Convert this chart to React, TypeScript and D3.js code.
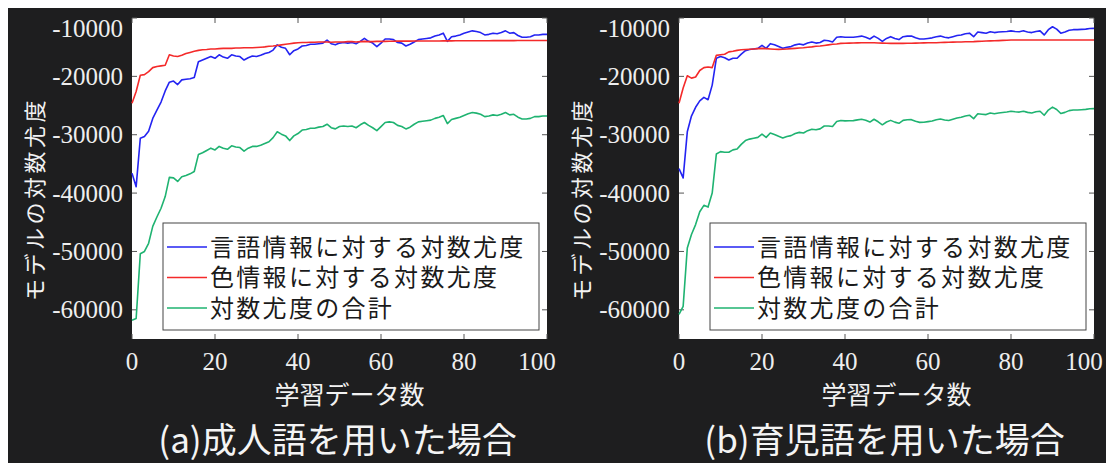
import React from 'react';
import * as d3 from 'd3';

// Number of training samples (x axis)
const TRAINING_COUNTS = d3.range(0, 101);

// (a) adult-directed speech
const ADULT_LANG = [
  -36600, -38900, -30600, -30300, -29400, -27200, -25800, -24400, -22500, -21000,
  -20800, -21400, -20600, -20500, -20400, -20200, -17500, -17200, -16900, -16600,
  -16900, -16300, -16700, -16900, -16300, -16500, -16600, -17200, -16800, -16500,
  -16600, -16400, -16100, -15900, -15500, -14600, -15000, -15200, -16300, -15600,
  -15300, -14800, -14700, -14500, -14500, -14400, -14300, -13800, -14400, -14600,
  -14300, -14200, -14300, -14200, -14400, -14000, -13500, -14000, -14300, -14900,
  -14300, -13600, -13600, -13700, -14200, -14300, -14800, -14500, -14100, -13700,
  -13600, -13500, -13400, -13100, -12900, -12600, -14000, -13200, -13100, -12900,
  -12600, -12400, -12200, -12300, -12500, -12900, -12800, -12600, -12700, -12500,
  -12200, -12600, -12500, -13000, -13300, -13300, -13200, -12900, -12900, -12800,
  -12800,
];
const ADULT_COLOR = [
  -24600, -22600, -19800, -19700, -19200, -18500, -18300, -18200, -18100, -16300,
  -16500, -16600, -16400, -16100, -15900, -15700, -15550, -15450, -15400, -15300,
  -15300, -15250, -15200, -15200, -15200, -15150, -15150, -15100, -15100, -15100,
  -15050, -15000, -14950, -14850, -14800, -14700, -14600, -14500, -14400, -14300,
  -14250, -14200, -14200, -14150, -14150, -14100, -14100, -14100, -14150, -14100,
  -14100, -14100, -14050, -14050, -14100, -14050, -14000, -14050, -14050, -14000,
  -14000, -14000, -13980, -13980, -13970, -13970, -13960, -13960, -13950, -13950,
  -13950, -13940, -13940, -13930, -13930, -13920, -13920, -13920, -13910, -13910,
  -13900, -13900, -13900, -13900, -13890, -13890, -13890, -13880, -13880, -13880,
  -13870, -13870, -13870, -13860, -13860, -13860, -13860, -13850, -13850, -13850,
  -13850,
];
const ADULT_TOTAL = [
  -61800, -61500, -50400, -50000, -48600, -45700, -44100, -42600, -40600, -37300,
  -37400, -38000, -37200, -37000, -36700, -36300, -33400, -33100, -32700, -32300,
  -32600, -32000, -32300, -32500, -31900, -32100, -32200, -32800, -32300, -32000,
  -32000, -31800, -31500, -31200, -30500, -29500, -29900, -30200, -31000, -30200,
  -29800, -29200, -29100, -28900, -28900, -28700, -28600, -28200, -28800, -29000,
  -28600, -28500, -28600, -28500, -28800, -28300, -27900, -28400, -28800, -29300,
  -28600, -27900, -27800, -27900, -28400, -28600, -29000, -28700, -28200, -27800,
  -27700, -27600, -27500, -27200, -27000, -26700, -28100, -27400, -27200, -27000,
  -26700, -26400, -26200, -26300, -26500, -26900, -26800, -26600, -26700, -26500,
  -26200, -26600, -26500, -27000, -27300, -27300, -27200, -26900, -26900, -26800,
  -26800,
];

// (b) infant-directed speech
const INFANT_LANG = [
  -35800, -37400, -29500, -26800, -25300, -24200, -23600, -24000, -21500, -16900,
  -16600, -16800, -17200, -16900, -16900, -16200, -15600, -15400, -15300, -15200,
  -14700, -15200, -14400, -14600, -14900, -15200, -15000, -14900, -14600, -14450,
  -14600, -14300, -14100, -14300, -14200, -13800, -13900, -14100, -13300, -13200,
  -13300, -13300, -13300, -13200, -13100, -13300, -13600, -13100, -13500, -14000,
  -13500, -13200, -13500, -13700, -13200, -13100, -13100, -13400, -13600, -13600,
  -13500, -13400, -13200, -13100, -13300, -13400, -13200, -13000, -12900, -12700,
  -12600, -13200, -12400, -12500, -12600, -12350, -12500, -12400, -12350, -12300,
  -12200, -12300, -12350, -12200, -12400, -12500, -12300, -12200, -12900, -12000,
  -11500, -11900, -12600, -12400, -12100, -12000, -12000, -11950, -11900, -11800,
  -11770,
];
const INFANT_COLOR = [
  -24600, -22000, -19900, -20300, -20100, -19000, -18500, -18400, -18500, -16400,
  -16300, -16200, -15800, -15700, -15550, -15450, -15400, -15350, -15300, -15250,
  -15200, -15250, -15300, -15350, -15370, -15350, -15300, -15250, -15200, -15150,
  -15100, -15000, -14950, -14850, -14800, -14700, -14600, -14500, -14450, -14350,
  -14330, -14300, -14280, -14260, -14250, -14230, -14230, -14250, -14280, -14300,
  -14320, -14340, -14340, -14340, -14340, -14330, -14320, -14300, -14280, -14260,
  -14250, -14240, -14230, -14200, -14180, -14160, -14140, -14120, -14100, -14080,
  -14060, -14040, -14000, -13980, -13950, -13920, -13900, -13870, -13840, -13800,
  -13780, -13770, -13770, -13770, -13770, -13770, -13770, -13770, -13770, -13770,
  -13770, -13770, -13770, -13770, -13770, -13770, -13770, -13770, -13760, -13760,
  -13760,
];
const INFANT_TOTAL = [
  -60800, -59400, -49400, -47100, -45400, -43200, -42100, -42400, -40000, -33300,
  -32900, -33000, -33000, -32600, -32450, -31650, -31000, -30750, -30600, -30450,
  -29900, -30450, -29700, -29950, -30270, -30550, -30300, -30150, -29800, -29600,
  -29700, -29300, -29050, -29150, -29000, -28500, -28500, -28600, -27750, -27550,
  -27630, -27600, -27580, -27460, -27350, -27530, -27830, -27350, -27780, -28300,
  -27820, -27540, -27840, -28040, -27540, -27430, -27420, -27700, -27880, -27860,
  -27750, -27640, -27430, -27300, -27480, -27560, -27340, -27120, -27000, -26780,
  -26660, -27240, -26400, -26480, -26550, -26270, -26400, -26270, -26190, -26100,
  -25980, -26070, -26120, -25970, -26170, -26270, -26070, -25970, -26670, -25770,
  -25270, -25670, -26370, -26170, -25870, -25770, -25770, -25720, -25660, -25560,
  -25530,
];

const X_TICKS = [0, 20, 40, 60, 80, 100];
const Y_TICKS = [-60000, -50000, -40000, -30000, -20000, -10000];
const LEGEND_LABELS = ['言語情報に対する対数尤度', '色情報に対する対数尤度', '対数尤度の合計'];
const SERIES_COLORS = ['#2424f2', '#f42a2a', '#1fb371'];
const CAPTIONS = ['(a)成人語を用いた場合', '(b)育児語を用いた場合'];
const Y_TITLE = 'モデルの対数尤度';
const X_TITLE = '学習データ数';

const PANELS = [
  { left: 132, series: [ADULT_LANG, ADULT_COLOR, ADULT_TOTAL], caption: CAPTIONS[0] },
  { left: 679, series: [INFANT_LANG, INFANT_COLOR, INFANT_TOTAL], caption: CAPTIONS[1] },
];

const PLOT_W = 415;
const PLOT_TOP = 18;
const PLOT_BOTTOM = 339;
const SERIF = '"Liberation Serif", "Times New Roman", serif';
const SANS = '"Noto Sans CJK JP", "Noto Sans", sans-serif';

function Panel({ left, series, caption }: { left: number; series: number[][]; caption: string }) {
  const x = d3.scaleLinear().domain([0, 100]).range([left, left + PLOT_W]);
  const y = d3.scaleLinear().domain([-65000, -10000]).range([PLOT_BOTTOM, PLOT_TOP]);
  const line = d3
    .line<number>()
    .x((_, i) => x(TRAINING_COUNTS[i]))
    .y((d) => y(d));
  const tickLen = 5;
  const right = left + PLOT_W;
  const legendX = left + 31;
  const legendY = 223;

  return (
    <g>
      <rect x={left} y={PLOT_TOP} width={PLOT_W} height={PLOT_BOTTOM - PLOT_TOP} fill="#ffffff" />
      {X_TICKS.map((t) => (
        <g key={'xt' + t}>
          <line x1={x(t)} x2={x(t)} y1={PLOT_BOTTOM} y2={PLOT_BOTTOM - tickLen} stroke="#555" strokeWidth={1} />
          <line x1={x(t)} x2={x(t)} y1={PLOT_TOP} y2={PLOT_TOP + tickLen} stroke="#555" strokeWidth={1} />
          <text
            x={Math.min(x(t), right - 10)}
            y={370}
            fill="#eeeeee"
            fontFamily={SERIF}
            fontSize={25}
            textAnchor="middle"
          >
            {t}
          </text>
        </g>
      ))}
      {Y_TICKS.map((t) => (
        <g key={'yt' + t}>
          <line x1={left} x2={left + tickLen} y1={y(t)} y2={y(t)} stroke="#555" strokeWidth={1} />
          <line x1={right} x2={right - tickLen} y1={y(t)} y2={y(t)} stroke="#555" strokeWidth={1} />
          <text
            x={left - 9}
            y={Math.max(y(t), 28) + 8.5}
            fill="#eeeeee"
            fontFamily={SERIF}
            fontSize={25}
            textAnchor="end"
          >
            {t}
          </text>
        </g>
      ))}
      {series.map((s, k) => (
        <path key={'s' + k} d={line(s) || ''} fill="none" stroke={SERIES_COLORS[k]} strokeWidth={1.6} strokeLinejoin="round" />
      ))}
      <rect x={legendX} y={legendY} width={376} height={107} fill="#ffffff" stroke="#444" strokeWidth={1} />
      {LEGEND_LABELS.map((label, k) => {
        const ry = legendY + 24 + k * 30.5;
        return (
          <g key={'lg' + k}>
            <line x1={legendX + 4} x2={legendX + 44} y1={ry} y2={ry} stroke={SERIES_COLORS[k]} strokeWidth={1.6} />
            <text x={legendX + 47} y={ry + 8.5} fill="#1a1a1a" fontFamily={SANS} fontSize={24} letterSpacing={2.3}>
              {label}
            </text>
          </g>
        );
      })}
      <text
        transform={`translate(${left - 99},199) rotate(-90)`}
        fill="#f2f2f2"
        fontFamily={SANS}
        fontSize={22}
        letterSpacing={3.5}
        textAnchor="middle"
        dominantBaseline="central"
      >
        {Y_TITLE}
      </text>
      <text x={left + PLOT_W / 2 + 10} y={404} fill="#f2f2f2" fontFamily={SANS} fontSize={25} textAnchor="middle">
        {X_TITLE}
      </text>
      <text x={left + PLOT_W / 2 - 2} y={453} fill="#f4f4f4" fontFamily={SANS} fontSize={35} textAnchor="middle">
        {caption}
      </text>
    </g>
  );
}

export default function App() {
  return (
    <svg
      width={1098}
      height={455}
      style={{ position: 'fixed', left: 8, top: 8, display: 'block' }}
    >
      <g transform="translate(-8,-8)">
        <rect x={8} y={8} width={1098} height={455} fill="#1e1e1f" />
        {PANELS.map((p, i) => (
          <Panel key={i} left={p.left} series={p.series} caption={p.caption} />
        ))}
      </g>
    </svg>
  );
}
